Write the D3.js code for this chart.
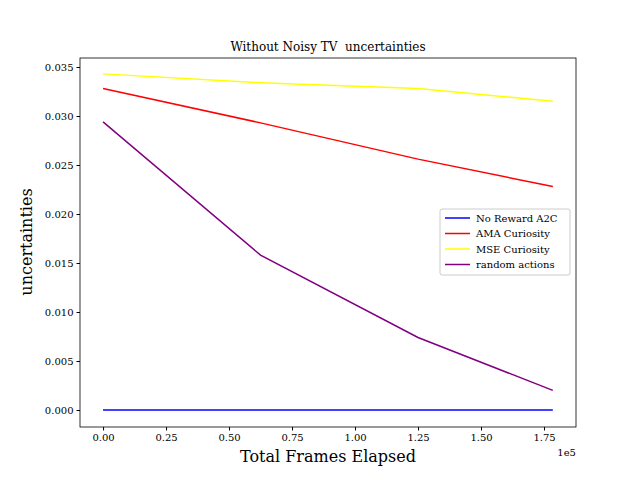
<!DOCTYPE html>
<html><head><meta charset="utf-8">
<script src="https://cdn.jsdelivr.net/npm/d3@7"></script>
<style>body{margin:0;background:#fff}text{font-family:"DejaVu Serif",serif}</style>
</head><body><svg id="c" width="640" height="480"></svg>
<script>
const frames = [0, 62500, 125000, 178500];
const seriesNames = ["No Reward A2C", "AMA Curiosity", "MSE Curiosity", "random actions"];
const seriesColors = ["blue", "red", "yellow", "purple"];
const noReward = [0, 0, 0, 0];
const amaCuriosity = [0.0328, 0.0293, 0.0256, 0.0228];
const mseCuriosity = [0.0343, 0.0334, 0.0328, 0.0315];
const randomActions = [0.0294, 0.0158, 0.0074, 0.0020];
const xTicks = [0, 25000, 50000, 75000, 100000, 125000, 150000, 175000];
const yTicks = [0, 0.005, 0.01, 0.015, 0.02, 0.025, 0.03, 0.035];

const svg = d3.select("#c");
const L = 80, R = 576, T = 58, B = 427;
const x = d3.scaleLinear().domain([-9150, 187700]).range([L, R]);
const y = d3.scaleLinear().domain([-0.001735, 0.03592]).range([B, T]);

svg.append("g").attr("transform", `translate(0,${B})`)
  .call(d3.axisBottom(x).tickValues(xTicks).tickFormat(d => (d / 1e5).toFixed(2)).tickSizeOuter(0).tickSize(3.5))
  .call(g => g.select(".domain").remove())
  .call(g => g.selectAll("text").attr("font-size", 10).attr("fill", "#000"));
svg.append("g").attr("transform", `translate(${L},0)`)
  .call(d3.axisLeft(y).tickValues(yTicks).tickFormat(d3.format(".3f")).tickSizeOuter(0).tickSize(3.5))
  .call(g => g.select(".domain").remove())
  .call(g => g.selectAll("text").attr("font-size", 10).attr("fill", "#000"));
svg.append("rect").attr("x", L).attr("y", T).attr("width", R - L).attr("height", B - T)
  .attr("fill", "none").attr("stroke", "#000").attr("stroke-width", 0.8);

const all = [noReward, amaCuriosity, mseCuriosity, randomActions];
const line = d3.line().x((d, i) => x(frames[i])).y(d => y(d));
all.forEach((s, k) => svg.append("path").attr("d", line(s)).attr("fill", "none")
  .attr("stroke", seriesColors[k]).attr("stroke-width", 1.5));

svg.append("text").attr("x", 328).attr("y", 51).attr("text-anchor", "middle").attr("font-size", 12)
  .text("Without Noisy TV\u00a0\u00a0uncertainties");
svg.append("text").attr("x", 328).attr("y", 462).attr("text-anchor", "middle").attr("font-size", 16)
  .text("Total Frames Elapsed");
svg.append("text").attr("transform", "translate(32,242) rotate(-90)").attr("text-anchor", "middle").attr("font-size", 16)
  .text("uncertainties");
svg.append("text").attr("x", 576).attr("y", 456).attr("text-anchor", "end").attr("font-size", 10).text("1e5");

const lg = svg.append("g").attr("transform", "translate(440,209)");
lg.append("rect").attr("width", 130).attr("height", 66).attr("rx", 2).attr("fill", "#fff")
  .attr("stroke", "#ccc");
seriesNames.forEach((n, i) => {
  const yy = 9 + i * 15.5;
  lg.append("line").attr("x1", 5).attr("x2", 30).attr("y1", yy).attr("y2", yy)
    .attr("stroke", seriesColors[i]).attr("stroke-width", 1.5);
  lg.append("text").attr("x", 36).attr("y", yy + 3.5).attr("font-size", 10).text(n);
});
</script></body></html>
